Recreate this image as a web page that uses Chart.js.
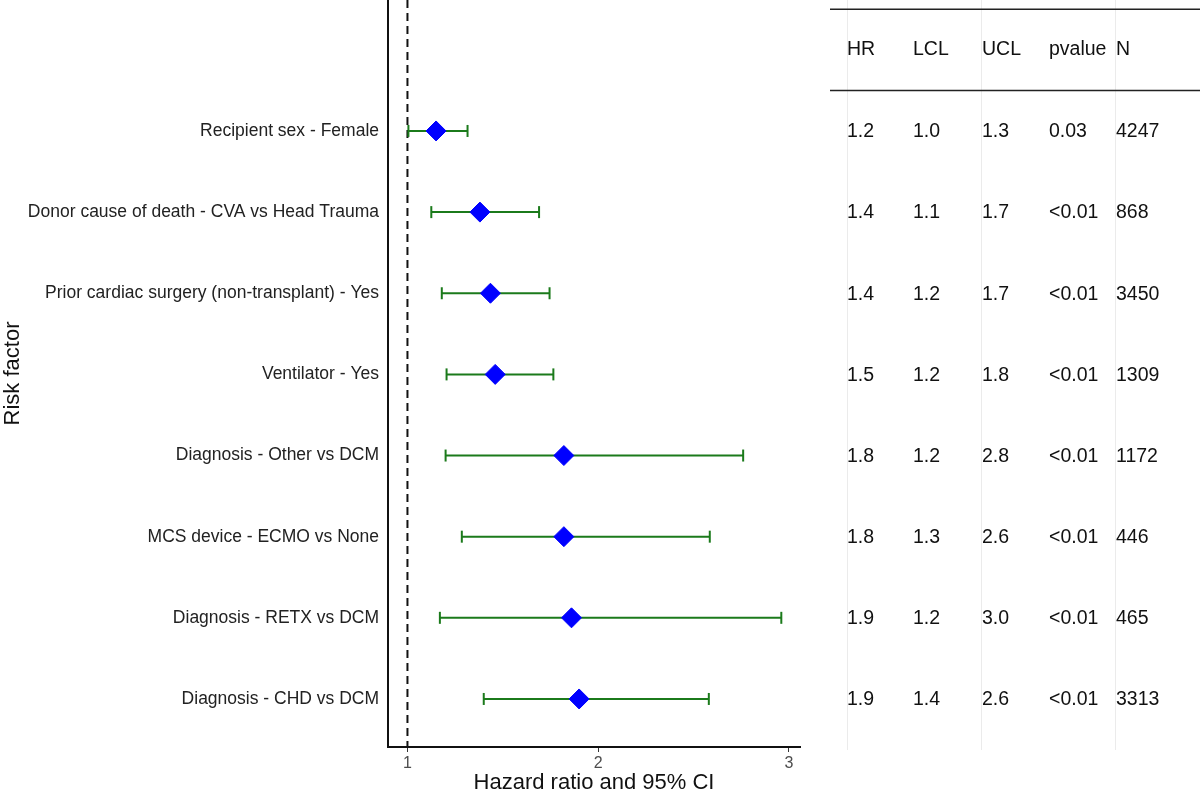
<!DOCTYPE html>
<html>
<head>
<meta charset="utf-8">
<script src="https://cdn.jsdelivr.net/npm/chart.js@4/dist/chart.umd.min.js"></script>
<style>
  html, body { margin: 0; padding: 0; background: #fff; }
  #wrap { width: 1200px; height: 797px; }
</style>
</head>
<body>
<div id="wrap"><canvas id="forest"></canvas></div>
<script>
const riskFactors = [
  "Recipient sex - Female",
  "Donor cause of death - CVA vs Head Trauma",
  "Prior cardiac surgery (non-transplant) - Yes",
  "Ventilator - Yes",
  "Diagnosis - Other vs DCM",
  "MCS device - ECMO vs None",
  "Diagnosis - RETX vs DCM",
  "Diagnosis - CHD vs DCM",
];
// plotted estimates
const hr = [1.15, 1.38, 1.435, 1.46, 1.82, 1.82, 1.86, 1.90];
const lcl = [1.005, 1.125, 1.18, 1.205, 1.20, 1.285, 1.17, 1.40];
const ucl = [1.315, 1.69, 1.745, 1.765, 2.76, 2.585, 2.96, 2.58];

// table columns as printed
const tableHeaders = ["HR", "LCL", "UCL", "pvalue", "N"];
const hrText = ["1.2", "1.4", "1.4", "1.5", "1.8", "1.8", "1.9", "1.9"];
const lclText = ["1.0", "1.1", "1.2", "1.2", "1.2", "1.3", "1.2", "1.4"];
const uclText = ["1.3", "1.7", "1.7", "1.8", "2.8", "2.6", "3.0", "2.6"];
const pvalText = ["0.03", "<0.01", "<0.01", "<0.01", "<0.01", "<0.01", "<0.01", "<0.01"];
const nText = ["4247", "868", "3450", "1309", "1172", "446", "465", "3313"];

const xTicks = [1, 2, 3];
const refLine = 1;

const FONT = "'Liberation Sans', Arial, Helvetica, sans-serif";
const Y_MIN = -1.614, Y_MAX = 7.592;
const colX = [847, 913, 982, 1049, 1116];   // table column left edges
const gridX = [847, 981, 1115];

const ciSets = riskFactors.map((name, i) => ({
  type: "line",
  data: [{ x: lcl[i], y: i }, { x: ucl[i], y: i }],
  borderColor: "#1b7a1b",
  borderWidth: 2,
  pointStyle: "line",
  rotation: 90,
  pointRadius: 6,
  pointBorderColor: "#1b7a1b",
  pointBorderWidth: 2,
  order: 2,
}));

const tablePlugin = {
  id: "table",
  afterDraw(chart) {
    const ctx = chart.ctx;
    const y = chart.scales.y;
    const area = chart.chartArea;
    ctx.save();
    // light gridlines
    ctx.strokeStyle = "#ebebeb";
    ctx.lineWidth = 1;
    gridX.forEach(gx => {
      ctx.beginPath();
      ctx.moveTo(gx + 0.5, area.top);
      ctx.lineTo(gx + 0.5, area.bottom + 3);
      ctx.stroke();
    });
    // header rules
    ctx.strokeStyle = "#222";
    ctx.lineWidth = 1.5;
    [-1.5, -0.5].forEach(v => {
      const py = y.getPixelForValue(v);
      ctx.beginPath();
      ctx.moveTo(830, py);
      ctx.lineTo(1200, py);
      ctx.stroke();
    });
    ctx.fillStyle = "#111";
    ctx.font = "19.5px " + FONT;
    ctx.textAlign = "left";
    ctx.textBaseline = "middle";
    tableHeaders.forEach((h, c) => ctx.fillText(h, colX[c], y.getPixelForValue(-1)));
    const cols = [hrText, lclText, uclText, pvalText, nText];
    riskFactors.forEach((_, i) => {
      const py = y.getPixelForValue(i) + 1;
      cols.forEach((col, c) => ctx.fillText(col[i], colX[c], py));
    });
    ctx.restore();
  }
};

new Chart(document.getElementById("forest"), {
  type: "scatter",
  data: {
    datasets: [
      {
        type: "line",
        data: [{ x: refLine, y: Y_MIN }, { x: refLine, y: Y_MAX }],
        borderColor: "#111",
        borderWidth: 2,
        borderDash: [8, 5],
        pointRadius: 0,
        order: 3,
      },
      ...ciSets,
      {
        data: hr.map((v, i) => ({ x: v, y: i })),
        pointStyle: "rectRot",
        pointRadius: 10,
        backgroundColor: "#0000ff",
        borderColor: "#0000ff",
        borderWidth: 1,
        order: 1,
      },
    ],
  },
  options: {
    responsive: true,
    maintainAspectRatio: false,
    animation: false,
    layout: { autoPadding: false, padding: { top: 0, left: 0, right: 400, bottom: 0 } },
    plugins: { legend: { display: false }, tooltip: { enabled: false } },
    scales: {
      x: {
        type: "linear",
        min: 0.898,
        max: 3.058,
        afterBuildTicks: s => { s.ticks = xTicks.map(v => ({ value: v })); },
        afterFit: s => { s.height = 50; s.paddingLeft = 0; s.paddingRight = 0; },
        grid: { display: true, drawOnChartArea: false, drawTicks: true, tickLength: 5, color: "#333", lineWidth: 1 },
        border: { display: true, color: "#111", width: 2 },
        ticks: { color: "#4d4d4d", font: { family: FONT, size: 16 }, padding: 2, maxRotation: 0 },
        title: { display: true, text: "Hazard ratio and 95% CI", color: "#111", font: { family: FONT, size: 22 }, padding: { top: 0, bottom: 1 } },
      },
      y: {
        type: "linear",
        reverse: true,
        min: Y_MIN,
        max: Y_MAX,
        afterBuildTicks: s => { s.ticks = riskFactors.map((_, i) => ({ value: i })); },
        afterFit: s => { s.width = 388; s.paddingTop = 0; s.paddingBottom = 0; },
        grid: { display: false, drawTicks: false },
        border: { display: true, color: "#111", width: 2 },
        ticks: { color: "#222", font: { family: FONT, size: 17.5 }, padding: 9, callback: v => riskFactors[v] },
        title: { display: true, text: "Risk factor", color: "#111", font: { family: FONT, size: 22 }, padding: { top: 0, bottom: 0 } },
      },
    },
  },
  plugins: [tablePlugin],
});
</script>
</body>
</html>
